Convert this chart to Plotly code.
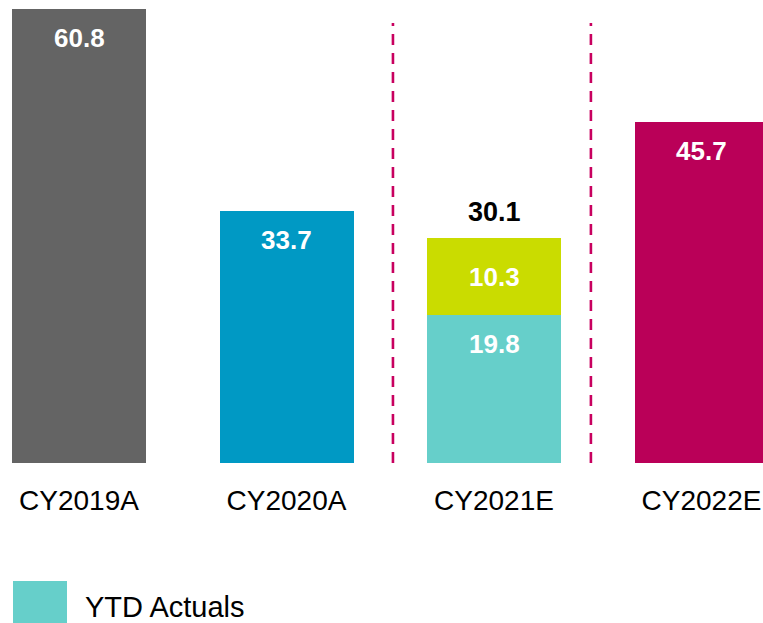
import plotly.graph_objects as go

categories = ["CY2019A", "CY2020A", "CY2021E", "CY2022E"]
base_values = [60.8, 33.7, 19.8, 45.7]
base_colors = ["#646464", "#0099C4", "#66CFCA", "#BA0058"]
top_values = [0, 0, 10.3, 0]
top_color = "#CADC00"
totals = [60.8, 33.7, 30.1, 45.7]
dividers = [1.513, 2.467]
legend_label = "YTD Actuals"

W, H = 763, 623
px_per_unit = 7.465
baseline_px = 463
y_max = baseline_px / px_per_unit
step_px = 207.5
first_center_px = 79
x_lo = -first_center_px / step_px
x_hi = (W - first_center_px) / step_px
bar_w = 134 / step_px
FONT = "Liberation Sans, Arial, sans-serif"

fig = go.Figure()
fig.add_trace(go.Bar(x=categories, y=base_values, marker=dict(color=base_colors, line=dict(width=0)),
                     width=bar_w, showlegend=False, hoverinfo="skip"))
fig.add_trace(go.Bar(x=categories, y=top_values, marker=dict(color=top_color, line=dict(width=0)),
                     width=bar_w, showlegend=False, hoverinfo="skip"))

lab_font = dict(family=FONT, size=26, color="white")
for c, v in zip(categories, base_values):
    fig.add_annotation(x=c, y=v, text=f"<b>{v}</b>", showarrow=False, yanchor="middle",
                       yshift=-29, font=lab_font)
for c, b, t, tot in zip(categories, base_values, top_values, totals):
    if t > 0:
        fig.add_annotation(x=c, y=b + t / 2, text=f"<b>{t}</b>", showarrow=False,
                           yanchor="middle", font=lab_font)
        fig.add_annotation(x=c, y=b + t, text=f"<b>{tot}</b>", showarrow=False,
                           yanchor="middle", yshift=26,
                           font=dict(family=FONT, size=27, color="black"))

for d in dividers:
    fig.add_shape(type="line", x0=d, x1=d, y0=0, y1=(baseline_px - 23) / px_per_unit,
                  xref="x", yref="y", line=dict(color="#C8005F", width=2.6, dash="11px,8px"))

# legend
fig.add_shape(type="rect", xref="paper", yref="paper", x0=13 / W, x1=67 / W,
              y0=(baseline_px - 625) / baseline_px, y1=(baseline_px - 581) / baseline_px,
              fillcolor=base_colors[2], line=dict(width=0))
fig.add_annotation(xref="paper", yref="paper", x=84 / W, y=(baseline_px - 607) / baseline_px,
                   text=legend_label, showarrow=False, xanchor="left", yanchor="middle",
                   borderpad=0, font=dict(family=FONT, size=29, color="black"))

fig.update_layout(
    barmode="stack", width=W, height=H,
    margin=dict(l=0, r=0, t=0, b=H - baseline_px, pad=0),
    paper_bgcolor="white", plot_bgcolor="white",
    xaxis=dict(range=[x_lo, x_hi], showgrid=False, zeroline=False, showline=False, ticks="",
               tickfont=dict(family=FONT, size=28, color="black"),
               ticklabelstandoff=18),
    yaxis=dict(range=[0, y_max], visible=False),
    showlegend=False,
)
fig.write_html("out.html", config={"displayModeBar": False},
               post_script="document.body.style.margin='0';document.body.style.overflow='hidden';")
